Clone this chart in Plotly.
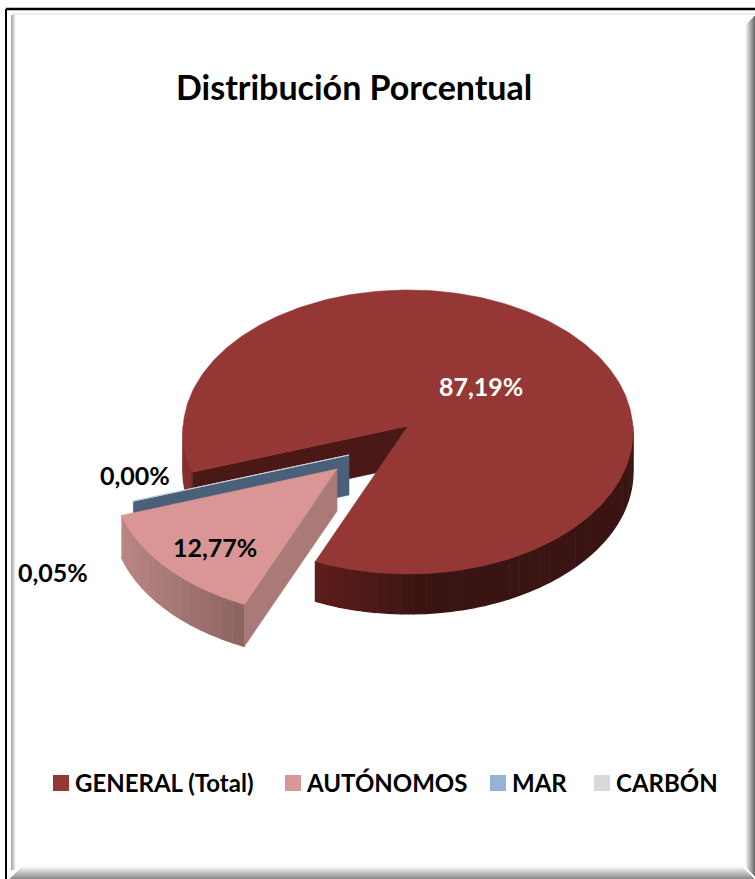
import math
import plotly.graph_objects as go

# ---- data ----
categories = ["GENERAL (Total)", "AUTÓNOMOS", "MAR", "CARBÓN"]
shares = [87.19, 12.77, 0.05, 0.00]
share_labels = ["87,19%", "12,77%", "0,05%", "0,00%"]
title_text = "Distribución Porcentual"

# ---- style ----
top_colors = ["#953735", "#D99694", "#95B3D7", "#D9D9D9"]
W, H = 755, 879
CX, CY, RX, RY, DEPTH = 408, 432, 225, 142, 40
ROTATION = 252.0
APEX_LIFT = 6
PERSPECTIVE = 4.0   # degrees of widening towards the viewer-facing front-left
EXPLODE = [(0, 0), (-71, 43), (-59, 29), (-59, 29)]
FONT = "Lato"


def pt(cx, cy, ang):
    r = math.radians(ang + PERSPECTIVE * math.sin(math.radians(ang - 229)))
    return cx + RX * math.sin(r), cy - RY * math.cos(r)


def mix(c1, c2, t):
    t = max(0.0, min(1.0, t))
    a = [int(c1[i:i + 2], 16) for i in (1, 3, 5)]
    b = [int(c2[i:i + 2], 16) for i in (1, 3, 5)]
    return "rgb(%d,%d,%d)" % tuple(round(a[i] + (b[i] - a[i]) * t) for i in range(3))


fig = go.Figure()


def poly(xs, ys, color, line=1.2):
    fig.add_trace(go.Scatter(x=xs, y=ys, fill="toself", fillcolor=color, mode="lines",
                             line=dict(color=color, width=line), hoverinfo="skip", showlegend=False))


def arc(cx, cy, a0, a1, step=1.0):
    n = max(2, int(abs(a1 - a0) / step) + 1)
    return [pt(cx, cy, a0 + (a1 - a0) * i / (n - 1)) for i in range(n)]


def wall(cx, cy, a0, a1, colorf, step=3.0, depth=DEPTH):
    n = max(1, int(abs(a1 - a0) / step))
    for i in range(n):
        u0 = a0 + (a1 - a0) * i / n
        u1 = a0 + (a1 - a0) * (i + 1) / n
        p = arc(cx, cy, u0, u1, 0.5)
        xs = [q[0] for q in p] + [q[0] for q in reversed(p)]
        ys = [q[1] for q in p] + [q[1] + depth for q in reversed(p)]
        poly(xs, ys, colorf(p[0][0]))


def top(cx, cy, a0, a1, color, name):
    p = arc(cx, cy, a0, a1)
    xs = [cx] + [q[0] for q in p] + [cx]
    ys = [cy - APEX_LIFT] + [q[1] for q in p] + [cy - APEX_LIFT]
    fig.add_trace(go.Scatter(x=xs, y=ys, fill="toself", fillcolor=color, mode="lines",
                             line=dict(color=color, width=0.6), name=name,
                             hoverinfo="name", showlegend=False))


def cut_wall(cx, cy, ang, color, depth=DEPTH):
    x1, y1 = pt(cx, cy, ang)
    ay = cy - APEX_LIFT
    poly([cx, x1, x1, cx, cx], [ay, y1, y1 + depth, ay + depth, ay], color, 0.6)


# slice angles follow from the shares, clockwise from the rotation
angles = []
acc = ROTATION
for s in shares:
    angles.append((acc, acc + s * 3.6))
    acc += s * 3.6

# GENERAL
a0, a1 = angles[0]
cx, cy = CX + EXPLODE[0][0], CY + EXPLODE[0][1]
wall(cx, cy, a0, 270, lambda x: "#85302e")
cut_wall(cx, cy, a0, "#4A1816")
wall(cx, cy, 450, a1, lambda x: mix("#3A1412", "#5E1E1C", (430 - x) / 114))
top(cx, cy, a0, a1, top_colors[0], categories[0])

# MAR cut wall (its top is almost nothing)
a0, a1 = angles[2]
cx, cy = CX + EXPLODE[2][0], CY + EXPLODE[2][1]
cut_wall(cx, cy, a0, "#4A6078")
top(cx, cy, a0, a1, top_colors[2], categories[2])

# AUTÓNOMOS
a0, a1 = angles[1]
cx, cy = CX + EXPLODE[1][0], CY + EXPLODE[1][1]
wall(cx, cy, a1, a0, lambda x: mix("#B88684", "#8A6260", (x - 122) / 120), depth=42)
cut_wall(cx, cy, a0, "#A97A78", depth=42)
top(cx, cy, a0, a1, top_colors[1], categories[1])

# CARBÓN has no visible width
a0, a1 = angles[3]
cx, cy = CX + EXPLODE[3][0], CY + EXPLODE[3][1]
top(cx, cy, a0, a1, top_colors[3], categories[3])

# legend: one legend per entry, so each sits where the reference has it.
# The dash draws the swatch at the right-hand end of the legend line sample;
# a rectangle behind it brings the swatch up to the reference's square height.
legend_x = [35, 267, 472, 576]
layout_legends = {}
shapes = []
for i, (name, color) in enumerate(zip(categories, top_colors)):
    key = "legend" if i == 0 else f"legend{i + 1}"
    fig.add_trace(go.Scatter(x=[None], y=[None], mode="lines", name=name, legend=key,
                             line=dict(color=color, width=16, dash="0px,13px,16px,100px"), showlegend=True))
    layout_legends[key] = dict(x=legend_x[i] / W, y=1 - 783 / H, xanchor="left", yanchor="middle",
                               bgcolor="rgba(0,0,0,0)", borderwidth=0, itemwidth=30, tracegroupgap=0,
                               font=dict(family=FONT, size=24, color="#000000", weight=700),
                               itemclick=False, itemdoubleclick=False)
    shapes.append(dict(type="rect", xref="x", yref="y", x0=legend_x[i] + 18, x1=legend_x[i] + 34,
                       y0=775, y1=791, fillcolor=color, line=dict(width=0), layer="below"))

# value labels
label_pos = [(481, 386, "#FFFFFF"), (215, 547, "#000000"), (53, 572, "#000000"), (135, 475, "#000000")]
annots = []
for text, (x, y, c) in zip(share_labels, label_pos):
    annots.append(dict(x=x, y=y, xref="x", yref="y", text=f"<b>{text}</b>", showarrow=False,
                       font=dict(family=FONT, size=25, color=c)))
annots.append(dict(x=354, y=86, xref="x", yref="y", text=f"<b>{title_text}</b>", showarrow=False,
                   font=dict(family=FONT, size=34, color="#000000")))


# frame: black rule, then a soft bevel on the inside
def ln(x0, y0, x1, y1, color, w=1):
    shapes.append(dict(type="line", xref="x", yref="y", x0=x0, y0=y0, x1=x1, y1=y1,
                       line=dict(color=color, width=w), layer="above"))


ln(6, 9, 6, 879, "#000000", 2)
ln(6, 9, 755, 9, "#000000", 2.5)
ln(12, 14, 755, 14, "#E4E4E4", 1.5)
for i, x in enumerate(range(11, 16)):
    ln(x + .5, 15, x + .5, 870, mix("#A8A8A8", "#F6F6F6", i / 4), 1)
for i, x in enumerate(range(754, 744, -1)):
    ln(x + .5, 16 + i, x + .5, 876 - i, mix("#6E6E6E", "#F8F8F8", i / 9), 1)
for i, y in enumerate(range(878, 864, -1)):
    ln(10 + i, y + .5, 754 - i, y + .5, mix("#8E8E8E", "#FBFBFB", i / 12), 1)

fig.update_layout(
    width=W, height=H, margin=dict(l=0, r=0, t=0, b=0), autosize=False,
    paper_bgcolor="#FFFFFF", plot_bgcolor="#FFFFFF",
    xaxis=dict(range=[0, W], visible=False, fixedrange=True),
    yaxis=dict(range=[H, 0], visible=False, fixedrange=True),
    annotations=annots, shapes=shapes, **layout_legends,
)
fig.write_html("out.html", post_script="document.body.style.margin='0';", config={"displayModeBar": False})
